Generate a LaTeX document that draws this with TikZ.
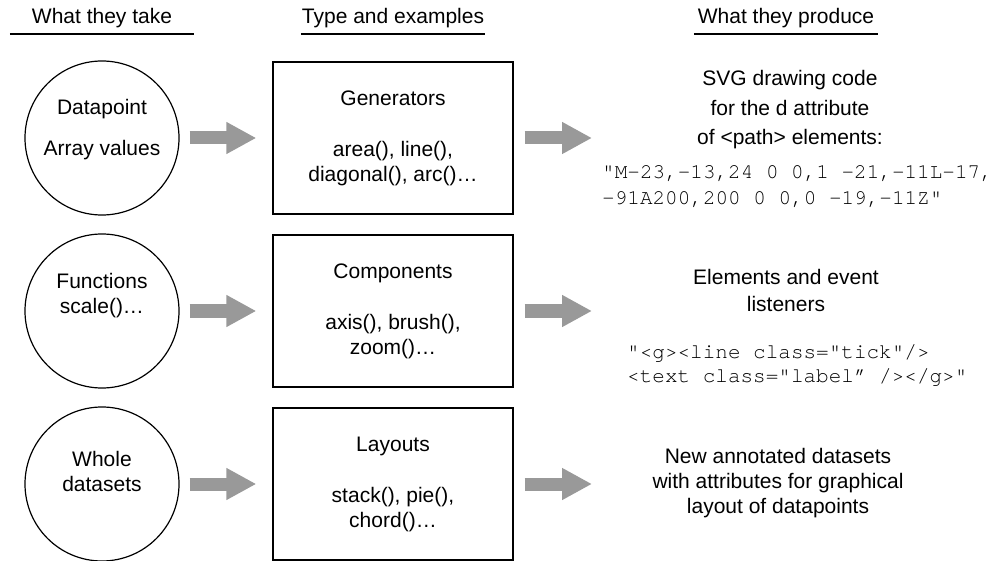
\documentclass[tikz,border=0pt]{standalone}
\usepackage{fontspec}
\setmainfont{Liberation Sans}
\newfontfamily\codefont{TeX Gyre Cursor}
\usetikzlibrary{arrows.meta}

\tikzset{
  takecircle/.style={draw, circle, line width=1.2pt, minimum size=154pt, inner sep=0pt},
  typebox/.style={draw, line width=1.4pt, minimum width=240pt, minimum height=152pt, inner sep=0pt, align=center},
  bigarrow/.style={draw=black!40, line width=13pt, -{Triangle[length=30pt,width=30pt]}},
  heading/.style={anchor=base, minimum width=184pt, inner sep=0pt},
  headline/.style={line width=1.3pt},
  produce/.style={align=center},
  codetext/.style={align=left, anchor=west, inner sep=0pt},
}

\begin{document}
\begin{tikzpicture}[x=1pt, y=-1pt, font=\fontsize{21}{25}\selectfont]
\useasboundingbox (0,0) rectangle (1001,561);

% Headings
\node[heading] (hd1) at (102,24) {What they take};
\node[heading] (hd2) at (393,24) {Type and examples};
\node[heading] (hd3) at (786,24) {What they produce};
\draw[headline] ([yshift=-10pt]hd1.base west) -- ([yshift=-10pt]hd1.base east);
\draw[headline] ([yshift=-10pt]hd2.base west) -- ([yshift=-10pt]hd2.base east);
\draw[headline] ([yshift=-10pt]hd3.base west) -- ([yshift=-10pt]hd3.base east);

% What they take
\node[takecircle] (take1) at (102,138) {};
\node[takecircle] (take2) at (102,311) {};
\node[takecircle] (take3) at (102,484) {};
\node[align=center] (take1txt) at (102,130) {Datapoint\\[16pt]Array values};
\node[align=center] (take2txt) at (102,296) {Functions\\scale()…};
\node[align=center] (take3txt) at (102,471) {Whole\\datasets};

% Type and examples
\node[typebox] (type1) at (393,138) {Generators\\[26pt]area(), line(),\\diagonal(), arc()…};
\node[typebox] (type2) at (393,311) {Components\\[26pt]axis(), brush(),\\zoom()…};
\node[typebox] (type3) at (393,484) {Layouts\\[26pt]stack(), pie(),\\chord()…};

% What they produce
\node[produce, font=\fontsize{21}{29.5}\selectfont] (prod1) at (790,110)
  {SVG drawing code\\for the d attribute\\of <path> elements:};
\node[codetext, font=\codefont\fontsize{21}{26}\selectfont] (code1) at (602,187)
  {"M-23,-13,24 0 0,1 -21,-11L-17,\\-91A200,200 0 0,0 -19,-11Z"};
\node[produce, font=\fontsize{21}{27}\selectfont] (prod2) at (786,290)
  {Elements and event\\listeners};
\node[codetext, font=\codefont\fontsize{21}{24}\selectfont] (code2) at (627,365)
  {"<g><line class="tick"/>\\<text class="label” /></g>"};
\node[produce] (prod3) at (778,483)
  {New annotated datasets\\with attributes for graphical\\layout of datapoints};

% Arrows
\coordinate (out1) at (592,138);
\coordinate (out2) at (592,311);
\coordinate (out3) at (592,484);
\draw[bigarrow, shorten <=10pt, shorten >=16pt] (take1) -- (type1);
\draw[bigarrow, shorten <=10pt, shorten >=16pt] (take2) -- (type2);
\draw[bigarrow, shorten <=10pt, shorten >=16pt] (take3) -- (type3);
\draw[bigarrow, shorten <=11pt] (type1) -- (out1);
\draw[bigarrow, shorten <=11pt] (type2) -- (out2);
\draw[bigarrow, shorten <=11pt] (type3) -- (out3);
\end{tikzpicture}
\end{document}
